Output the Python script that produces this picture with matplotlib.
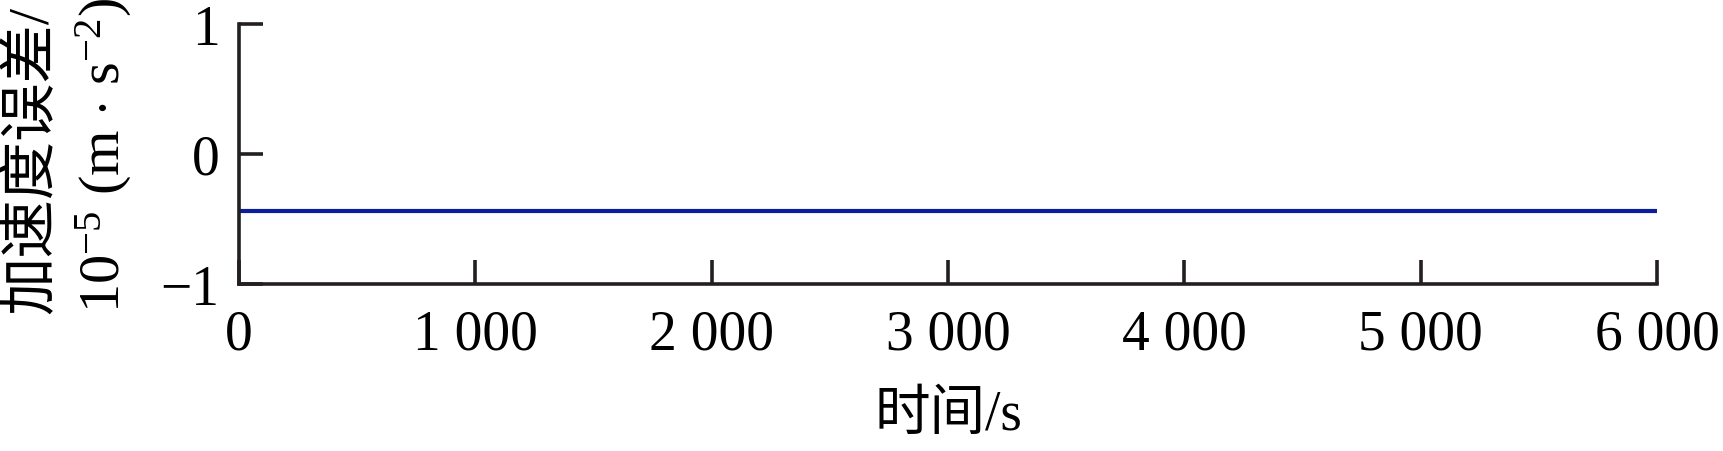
import matplotlib
matplotlib.use("Agg")
import matplotlib.pyplot as plt
import numpy as np

plt.rcParams['font.family'] = ['Liberation Serif', 'Noto Sans CJK SC', 'DejaVu Sans']
plt.rcParams['mathtext.fontset'] = 'custom'
plt.rcParams['mathtext.rm'] = 'Liberation Serif'
plt.rcParams['mathtext.it'] = 'Liberation Serif:italic'
plt.rcParams['axes.unicode_minus'] = True

# data
time_s = [0, 6000]
accel_err = [-0.44, -0.44]
xticks = [0, 1000, 2000, 3000, 4000, 5000, 6000]
xticklabels = ['0', '1 000', '2 000', '3 000', '4 000', '5 000', '6 000']
yticks = [-1, 0, 1]
yticklabels = ['\u22121', '0', '1']

W, H = 1724, 452
fig = plt.figure(figsize=(W / 100, H / 100), dpi=100)
ax = fig.add_axes([239 / W, 1 - 285 / H, (1657 - 239) / W, (285 - 25) / H])

spine_c = '#231f20'
ax.plot(time_s, accel_err, color='#0c1f9a', lw=3.0, solid_capstyle='butt')

ax.set_xlim(0, 6000)
ax.set_ylim(-1, 1)
ax.set_xticks(xticks)
ax.set_xticklabels(xticklabels)
ax.set_yticks(yticks)
ax.set_yticklabels(yticklabels)

for s in ['top', 'right']:
    ax.spines[s].set_visible(False)
for s in ['left', 'bottom']:
    ax.spines[s].set_linewidth(2.6)
    ax.spines[s].set_color(spine_c)
    ax.spines[s].set_capstyle('projecting')

ax.tick_params(axis='both', direction='in', length=17, width=2.6, color=spine_c,
               labelsize=40, labelcolor='black')
ax.tick_params(axis='x', pad=18)
ax.tick_params(axis='y', pad=14)

ax.set_xlabel('时间/s', fontsize=40, labelpad=20)

fig.text(32 / W, 1 - 160 / H, '加速度误差/', rotation=90, ha='center', va='center', fontsize=42)
fig.text(104 / W, 1 - 155 / H, r'10$^{-5}$ (m $\cdot$ s$^{-2}$)', rotation=90, ha='center', va='center', fontsize=42)

fig.savefig('out.png', dpi=100)
